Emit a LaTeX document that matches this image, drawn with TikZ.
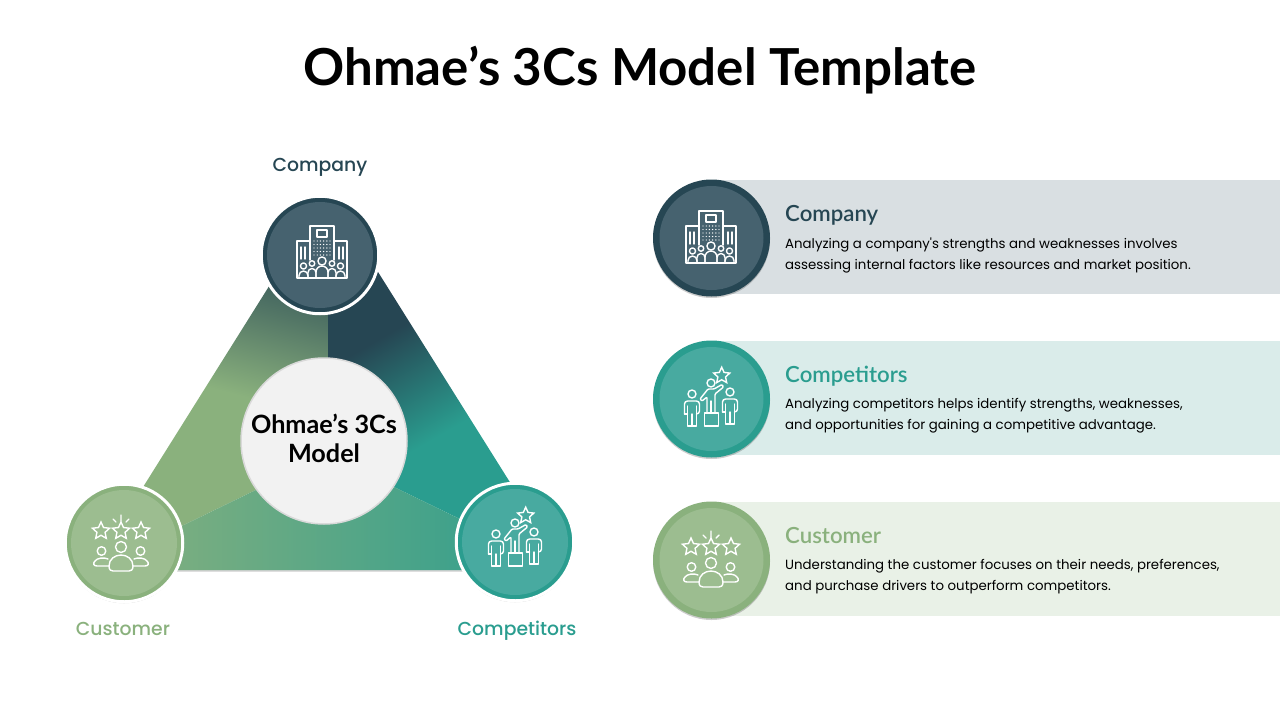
\documentclass[tikz,border=0pt]{standalone}
\usepackage{fontspec}
\usetikzlibrary{shadows,shapes.geometric}
\setmainfont{Poppins}
\newfontfamily\bodyfont{Poppins}
\newfontfamily\headfont{Lato}
\newfontfamily\semifont{Lato Semibold}
\newfontfamily\labelfont{Poppins Medium}

\definecolor{darkblue}{HTML}{264653}
\definecolor{darkfill}{HTML}{46626F}
\definecolor{teal}{HTML}{2A9D8F}
\definecolor{tealfill}{HTML}{48AAA0}
\definecolor{leaf}{HTML}{8AB17D}
\definecolor{leaffill}{HTML}{9CBD90}
\definecolor{darkpanel}{HTML}{D9DFE2}
\definecolor{tealpanel}{HTML}{DAECEA}
\definecolor{leafpanel}{HTML}{E9F1E7}
\definecolor{hubfill}{HTML}{F2F2F2}
\definecolor{hubline}{HTML}{D9D9D9}

\pgfdeclareverticalshading{leftgrad}{100bp}{color(0bp)=(leaf); color(50bp)=(leaf); color(63bp)=(leaf!45!darkblue); color(75bp)=(darkblue); color(100bp)=(darkblue)}
\pgfdeclareverticalshading{rightgrad}{100bp}{color(0bp)=(teal); color(44bp)=(teal); color(62bp)=(darkblue); color(100bp)=(darkblue)}

\tikzset{
	softshadow/.style={drop shadow={shadow xshift=0pt,shadow yshift=-1.5pt,fill=black,opacity=.2}},
	ringnode/.style={circle,inner sep=0pt,minimum size=117.5pt,fill=#1,draw=white,line width=3pt,softshadow},
	bandnode/.style={circle,inner sep=0pt,minimum size=117pt,fill=#1,softshadow},
	facenode/.style={circle,inner sep=0pt,minimum size=#1},
	hubnode/.style={circle,inner sep=0pt,minimum size=166pt,fill=hubfill,draw=hubline,line width=1.5pt},
	hubtext/.style={align=center,font=\headfont\bfseries\fontsize{25.2}{29}\selectfont},
	panelbox/.style={fill=#1},
	titletext/.style={font=\headfont\bfseries\fontsize{51}{56}\selectfont},
	sidelabel/.style={text=#1,anchor=base,font=\labelfont\fontsize{18.8}{23}\selectfont},
	panelhead/.style={text=#1,anchor=base west,inner sep=0pt,font=\semifont\fontsize{22.2}{25}\selectfont},
	paneltext/.style={anchor=west,inner sep=0pt,align=left,font=\bodyfont\fontsize{13.33}{21}\selectfont},
	iconline/.style={draw=white,line width=1.4pt,line join=round,line cap=round},
	iconstar/.style={star,star points=5,star point ratio=2.1,draw=white,line width=1.4pt,inner sep=0pt,minimum size=#1},
	pics/buildingicon/.style={code={
		\draw[iconline] (-12,7) -- (-12,-27) -- (12,-27) -- (12,7);
		\draw[iconline] (-12,-12) -- (-25,-12) -- (-25,25) -- (25,25) -- (25,-12) -- (12,-12);
		\draw[iconline] (-5,-23) rectangle (5,-16);
		\foreach \dx in {-8,-4.8,-1.6,1.6,4.8,8}
			\foreach \dy in {-12,-8.5,-5,-1.5,2}
				\fill[white] (\dx,\dy) circle (.7);
		\draw[iconline] (-21,-6) -- (-21,6) (-17,-6) -- (-17,6) (17,-6) -- (17,6) (21,-6) -- (21,6);
		\foreach \px/\py/\pr in {-18.5/13/4.5,18.5/13/4.5,-10/10.5/4,10/10.5/4,0/8/6}{
			\draw[iconline] (\px,\py) circle (\pr*.68);
			\draw[iconline] (\px-\pr,25) -- (\px-\pr,\py+5+\pr) arc[start angle=180,end angle=360,radius=\pr] -- (\px+\pr,25);
		}
	}},
	pics/podiumicon/.style={code={
		\draw[iconline] (-6.7,14) rectangle (7.3,27);
		\draw[iconline] (0,-16) circle (4);
		\draw[iconline,rounded corners=1pt] (-4,14) -- (-4,-2) -- (-9,2) -- (-11,0) -- (-3,-10) -- (3,-10) -- (11,-14.5) -- (12.5,-12) -- (4,-5) -- (4,14);
		\draw[iconline] (0,2) -- (0,14);
		\node[iconstar=17pt] (podiumstar) at (10.7,-23.3) {};
		\foreach \cx/\cy in {-19/-5,19/-7}{
			\draw[iconline] (\cx,\cy) circle (4);
			\draw[iconline,rounded corners=3pt] (\cx-7.5,\cy+20) -- (\cx-7.5,\cy+7) -- (\cx+7.5,\cy+7) -- (\cx+7.5,\cy+20) -- (\cx+4.5,\cy+20);
			\draw[iconline] (\cx-7.5,\cy+20) -- (\cx-4.5,\cy+20) (\cx-4.5,\cy+12) -- (\cx-4.5,\cy+32) -- (\cx+4.5,\cy+32) -- (\cx+4.5,\cy+12) (\cx,\cy+20) -- (\cx,\cy+32);
		}
	}},
	pics/starsicon/.style={code={
		\foreach \sx in {-20,0,20}
			\node[iconstar=18pt] (rating\sx) at (\sx,-13) {};
		\draw[iconline] (0,-29) -- (0,-23) (-8,-25) -- (-5,-22) (8,-25) -- (5,-22);
		\draw[iconline] (0,3) circle (5.5);
		\draw[iconline] (-12,22) .. controls (-12,15) and (-6,11) .. (0,11) .. controls (6,11) and (12,15) .. (12,22) .. controls (12,26) and (10,27) .. (8,27) -- (-8,27) .. controls (-10,27) and (-12,26) .. (-12,22) -- cycle;
		\draw[iconline] (-19.5,7) circle (4.3) (19.5,7) circle (4.3);
		\draw[iconline] (-12,22) -- (-24,22) .. controls (-28,22) and (-28,19) .. (-26,17) .. controls (-24,14) and (-17,13) .. (-13,15);
		\draw[iconline] (12,22) -- (24,22) .. controls (28,22) and (28,19) .. (26,17) .. controls (24,14) and (17,13) .. (13,15);
	}},
}

\begin{document}
\begin{tikzpicture}[x=1pt,y=-1pt]
	\useasboundingbox (0,0) rectangle (1280,720);
	\node[titletext] (title) at (640,70) {Ohmae’s 3Cs Model Template};

	% triangle
	\coordinate (apex) at (328,205);
	\coordinate (apexL) at (320,205);
	\coordinate (apexR) at (336,205);
	\coordinate (cornerL) at (91,570);
	\coordinate (cornerR) at (565,570);
	\coordinate (middle) at (328,455);
	\fill[white,softshadow] (apexL) -- (apexR) -- (cornerR) -- (cornerL) -- cycle;
	\shade[shading=leftgrad,shading angle=-15] (apexL) -- (apex) -- (middle) -- (cornerL) -- cycle;
	\shade[shading=rightgrad,shading angle=30] (apex) -- (apexR) -- (cornerR) -- (middle) -- cycle;
	\shade[left color=leaf,right color=teal] (cornerL) -- (middle) -- (cornerR) -- cycle;

	\node[hubnode] (hub) at (324,441) {};
	\node[hubtext] (hublabel) at (324,438.5) {Ohmae’s 3Cs\\Model};

	% circles round the triangle
	\node[ringnode=darkblue] (ringA) at (320,255) {};
	\node[facenode=106pt,fill=darkfill] (faceA) at (320,255) {};
	\node[ringnode=leaf] (ringB) at (124,543) {};
	\node[facenode=106pt,fill=leaffill] (faceB) at (124,543) {};
	\node[ringnode=teal] (ringC) at (515,542) {};
	\node[facenode=106pt,fill=tealfill] (faceC) at (515,542) {};
	\pic at (322,253) {buildingicon};
	\pic at (121,544) {starsicon};
	\pic at (515,539) {podiumicon};
	\node[sidelabel=darkblue] (labelA) at (320,171) {Company};
	\node[sidelabel=leaf] (labelB) at (123,635) {Customer};
	\node[sidelabel=teal] (labelC) at (517,635) {Competitors};

	% panels
	\fill[panelbox=darkpanel] (711,180) rectangle (1280,294);
	\fill[panelbox=tealpanel] (711,341) rectangle (1280,455);
	\fill[panelbox=leafpanel] (711,502) rectangle (1280,616);

	\node[bandnode=darkblue] (bandA) at (711.5,238) {};
	\node[facenode=104pt,fill=darkfill] (discA) at (711.5,238) {};
	\node[bandnode=teal] (bandC) at (711.5,399) {};
	\node[facenode=104pt,fill=tealfill] (discC) at (711.5,399) {};
	\node[bandnode=leaf] (bandB) at (711.5,560) {};
	\node[facenode=104pt,fill=leaffill] (discB) at (711.5,560) {};
	\pic at (711,238) {buildingicon};
	\pic at (711,399) {podiumicon};
	\pic at (711,560) {starsicon};

	\node[panelhead=darkblue] (headA) at (785,221) {Company};
	\node[paneltext] (textA) at (785,255) {Analyzing a company's strengths and weaknesses involves\\assessing internal factors like resources and market position.};
	\node[panelhead=teal] (headC) at (785,382) {Competitors};
	\node[paneltext] (textC) at (785,416) {Analyzing competitors helps identify strengths, weaknesses,\\and opportunities for gaining a competitive advantage.};
	\node[panelhead=leaf] (headB) at (785,543) {Customer};
	\node[paneltext] (textB) at (785,577) {Understanding the customer focuses on their needs, preferences,\\and purchase drivers to outperform competitors.};
\end{tikzpicture}
\end{document}
